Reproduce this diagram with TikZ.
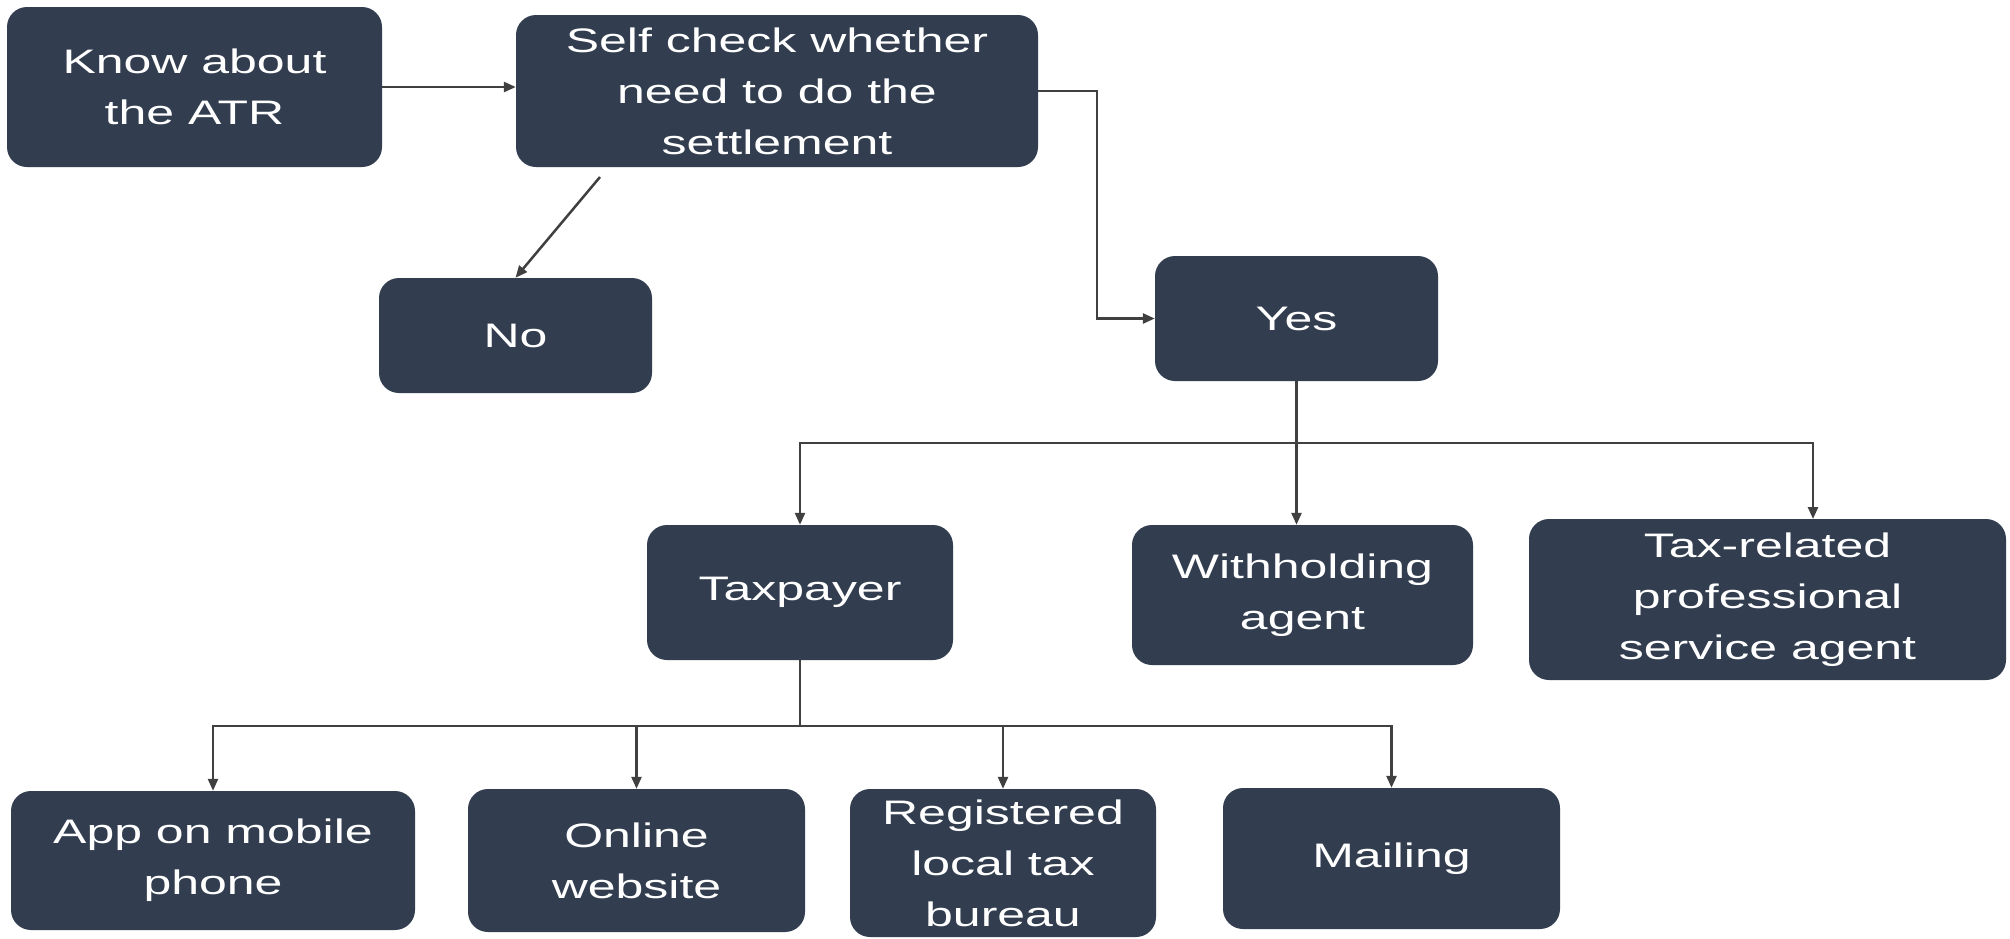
\documentclass[tikz,border=0pt]{standalone}
\usepackage{fontspec}
\setmainfont{Liberation Sans}[FakeStretch=1.47]
\usetikzlibrary{arrows.meta,calc}
\definecolor{boxblue}{HTML}{323E4F}
\definecolor{linegray}{HTML}{404040}
\tikzset{
  stepbox/.style={draw=none, fill=boxblue, rounded corners=20pt, text=white,
    align=center, inner sep=0pt, font=\fontsize{34}{51}\selectfont},
  conn/.style={draw=linegray, line width=2.5pt},
  arr/.style={conn, -{Triangle[length=12pt,width=10pt]}}
}
\begin{document}
\begin{tikzpicture}[x=1pt,y=-1pt]
\useasboundingbox[fill=white] (0,0) rectangle (2010,938);
% nodes
\node[stepbox, minimum width=375pt, minimum height=160pt] (know) at (194.5,87) {Know about\\the ATR};
\node[stepbox, minimum width=522pt, minimum height=152pt] (self) at (777,91) {Self check whether\\need to do the\\settlement};
\node[stepbox, minimum width=273pt, minimum height=115pt] (no) at (515.5,335.5) {No};
\node[stepbox, minimum width=283pt, minimum height=125pt] (yes) at (1296.5,318.5) {Yes};
\node[stepbox, minimum width=306pt, minimum height=135pt] (tax) at (800,592.5) {Taxpayer};
\node[stepbox, minimum width=341pt, minimum height=140pt] (with) at (1302.5,595) {Withholding\\agent};
\node[stepbox, minimum width=477pt, minimum height=161pt] (prof) at (1767.5,599.5) {Tax-related\\professional\\service agent};
\node[stepbox, minimum width=404pt, minimum height=139pt] (app) at (213,860.5) {App on mobile\\phone};
\node[stepbox, minimum width=337pt, minimum height=143pt] (online) at (636.5,860.5) {Online\\website};
\node[stepbox, minimum width=306pt, minimum height=148pt] (reg) at (1003,863) {Registered\\local tax\\bureau};
\node[stepbox, minimum width=337pt, minimum height=141pt] (mail) at (1391.5,858.5) {Mailing};
% helper coordinates
\coordinate (nostart) at (600,177);
\coordinate (bus1) at (1300,443);
\coordinate (profin) at (1813,519);
\coordinate (bus2) at (800,726);
% connectors
\draw[arr] (know.east) -- (self.west |- know.east);
\draw[arr] (nostart) -- (no.north);
\draw[arr] (self.east) -- ++(59,0) |- (yes.west);
\draw[arr] (yes.south) -- (yes.south |- with.north);
\draw[arr] (bus1) -| (tax.north);
\draw[arr] (bus1) -| (profin);
\draw[conn] (tax.south) -- (bus2);
\draw[arr] (bus2) -| (app.north);
\draw[arr] (bus2) -| (online.north);
\draw[arr] (bus2) -| (reg.north);
\draw[arr] (bus2) -| (mail.north);
\end{tikzpicture}
\end{document}
